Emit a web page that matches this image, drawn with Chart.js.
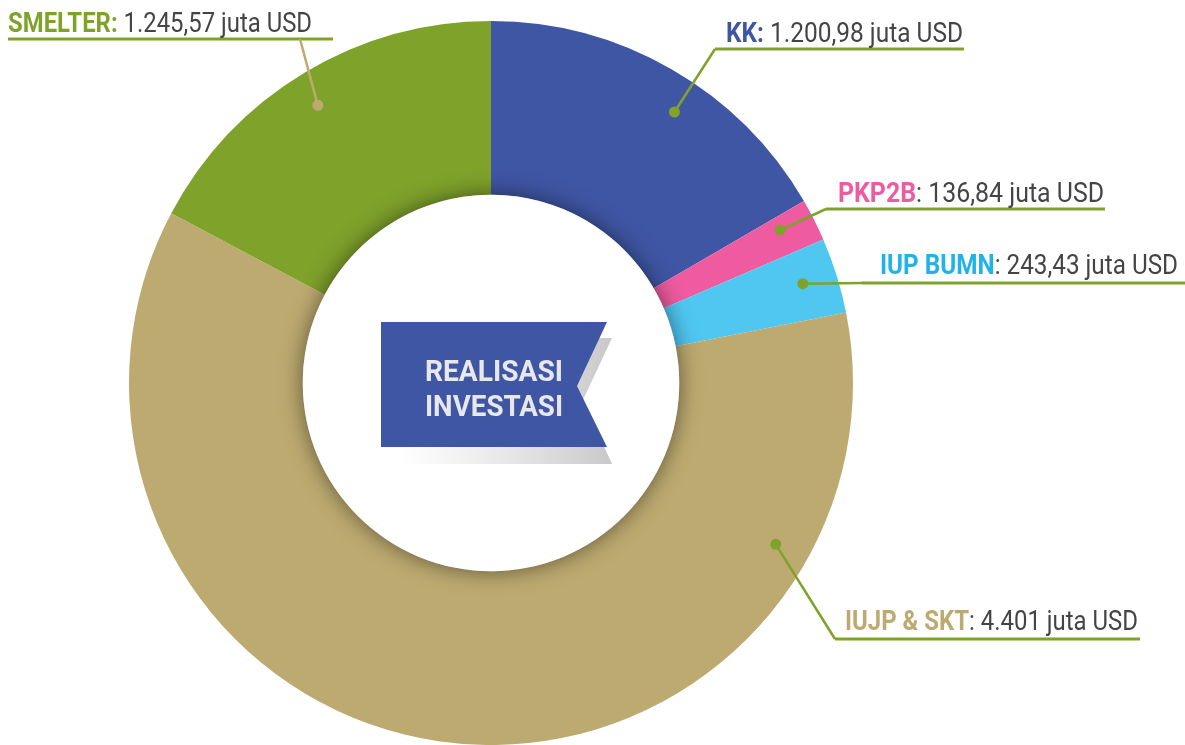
<!DOCTYPE html>
<html>
<head>
<meta charset="utf-8">
<script src="https://cdn.jsdelivr.net/npm/chart.js@4.4.1/dist/chart.umd.min.js"></script>
<style>
    html, body { margin: 0; padding: 0; background: #fff; overflow: hidden; }
    #wrap { width: 1185px; height: 745px; position: relative; }
</style>
</head>
<body>
<div id="wrap"><canvas id="investasiChart"></canvas></div>
<script>
// Data realisasi investasi (juta USD)
const kategori = ["KK", "PKP2B", "IUP BUMN", "IUJP & SKT", "SMELTER"];
const nilai = [1200.98, 136.84, 243.43, 4401, 1245.57];
const satuan = "juta USD";
const judul = ["REALISASI", "INVESTASI"];

const warnaSlice = ["#3f56a4", "#ee5ba0", "#4fc7f1", "#bdaa70", "#7fa22b"];
const warnaLabel = ["#3f56a4", "#ee5ba0", "#1fb3ea", "#bdaa70", "#7fa22b"];
const hijau = "#7fa22b";
const FONT = "'Liberation Sans Narrow', 'Roboto', 'Open Sans', sans-serif";

// posisi label (gaya saja, bukan data)
const labelPos = [
    { x: 726, x2: 963, y: 42, lineY: 49, lx1: 715, lx2: 964, knee: [715, 49], frac: 0.57, colonWarna: true, leader: hijau },
    { x: 838, x2: 1104, y: 202, lineY: 209, lx1: 826, lx2: 1105, knee: [826, 209], frac: 0.34, colonWarna: false, leader: hijau },
    { x: 880, x2: 1178, y: 274, lineY: 283, lx1: 862, lx2: 1185, knee: [862, 283], frac: 0.47, colonWarna: false, leader: hijau },
    { x: 845, x2: 1138, y: 630, lineY: 639, lx1: 835, lx2: 1140, knee: [835, 639], frac: 0.186, colonWarna: false, leader: hijau },
    { x: 8, x2: 312, y: 32, lineY: 39, lx1: 8, lx2: 333, knee: [300, 39], frac: 0.485, colonWarna: true, leader: "#bdaa70" },
];

const fmt = new Intl.NumberFormat("id-ID", { minimumFractionDigits: 0, maximumFractionDigits: 2 });

// bayangan di tepi dalam donat
const innerShadow = {
    id: "innerShadow",
    afterDatasetsDraw(chart) {
        const arc = chart.getDatasetMeta(0).data[0];
        if (!arc) return;
        const ctx = chart.ctx;
        ctx.save();
        ctx.beginPath();
        ctx.arc(arc.x, arc.y, arc.innerRadius, 0, Math.PI * 2);
        ctx.shadowColor = "rgba(0,0,0,0.5)";
        ctx.shadowBlur = 22;
        ctx.fillStyle = "#ffffff";
        ctx.fill();
        ctx.restore();
    },
};

// label, garis penunjuk dan pita judul
const labelPlugin = {
    id: "labelPlugin",
    afterDraw(chart) {
        const ctx = chart.ctx;
        const arcs = chart.getDatasetMeta(0).data;

        arcs.forEach(function (arc, i) {
            const p = labelPos[i];
            const a = arc.startAngle + p.frac * (arc.endAngle - arc.startAngle);
            const r = arc.innerRadius + 0.8 * (arc.outerRadius - arc.innerRadius);
            const dx = arc.x + Math.cos(a) * r;
            const dy = arc.y + Math.sin(a) * r;

            ctx.save();
            // garis bawah
            ctx.strokeStyle = hijau;
            ctx.lineWidth = 3;
            ctx.beginPath();
            ctx.moveTo(p.lx1, p.lineY);
            ctx.lineTo(p.lx2, p.lineY);
            ctx.stroke();
            // penunjuk
            ctx.strokeStyle = p.leader;
            ctx.lineWidth = 2.5;
            ctx.beginPath();
            ctx.moveTo(p.knee[0], p.knee[1]);
            ctx.lineTo(dx, dy);
            ctx.stroke();
            ctx.fillStyle = p.leader;
            ctx.beginPath();
            ctx.arc(dx, dy, 5.5, 0, Math.PI * 2);
            ctx.fill();

            // teks
            const bold = p.colonWarna ? kategori[i] + ":" : kategori[i];
            const reg = (p.colonWarna ? " " : ": ") + fmt.format(nilai[i]) + " " + satuan;
            ctx.font = "bold 27px " + FONT;
            const wb = ctx.measureText(bold).width;
            ctx.font = "27px " + FONT;
            const wr = ctx.measureText(reg).width;
            const k = (p.x2 - p.x) / (wb + wr);
            ctx.translate(p.x, p.y);
            ctx.scale(k, 1);
            ctx.textBaseline = "alphabetic";
            ctx.font = "bold 27px " + FONT;
            ctx.fillStyle = warnaLabel[i];
            ctx.fillText(bold, 0, 0);
            ctx.font = "27px " + FONT;
            ctx.fillStyle = "#444444";
            ctx.fillText(reg, wb, 0);
            ctx.restore();
        });

        // pita judul di tengah
        ctx.save();
        const grad = ctx.createLinearGradient(400, 0, 612, 0);
        grad.addColorStop(0, "rgba(215,215,215,0)");
        grad.addColorStop(1, "rgba(200,200,200,1)");
        ctx.fillStyle = grad;
        ctx.beginPath();
        ctx.moveTo(386, 338);
        ctx.lineTo(612, 338);
        ctx.lineTo(583, 400);
        ctx.lineTo(612, 464);
        ctx.lineTo(386, 464);
        ctx.closePath();
        ctx.fill();

        ctx.fillStyle = "#3f56a4";
        ctx.beginPath();
        ctx.moveTo(381, 322);
        ctx.lineTo(607, 322);
        ctx.lineTo(577, 386);
        ctx.lineTo(607, 447);
        ctx.lineTo(381, 447);
        ctx.closePath();
        ctx.fill();

        ctx.fillStyle = "#e8e8ec";
        ctx.font = "bold 29px " + FONT;
        ctx.textAlign = "right";
        judul.forEach(function (t, j) {
            const w = ctx.measureText(t).width;
            const k = 138 / w;
            ctx.save();
            ctx.translate(563, j === 0 ? 381 : 416);
            ctx.scale(k, 1);
            ctx.fillText(t, 0, 0);
            ctx.restore();
        });
        ctx.restore();
    },
};

new Chart(document.getElementById("investasiChart"), {
    type: "doughnut",
    data: {
        labels: kategori,
        datasets: [
            {
                data: nilai,
                backgroundColor: warnaSlice,
                borderWidth: 0,
            },
        ],
    },
    options: {
        responsive: true,
        maintainAspectRatio: false,
        animation: false,
        cutout: "52%",
        layout: {
            padding: { left: 129, right: 332, top: 21, bottom: 0 },
        },
        plugins: {
            legend: { display: false },
            tooltip: { enabled: false },
        },
    },
    plugins: [innerShadow, labelPlugin],
});
</script>
</body>
</html>
